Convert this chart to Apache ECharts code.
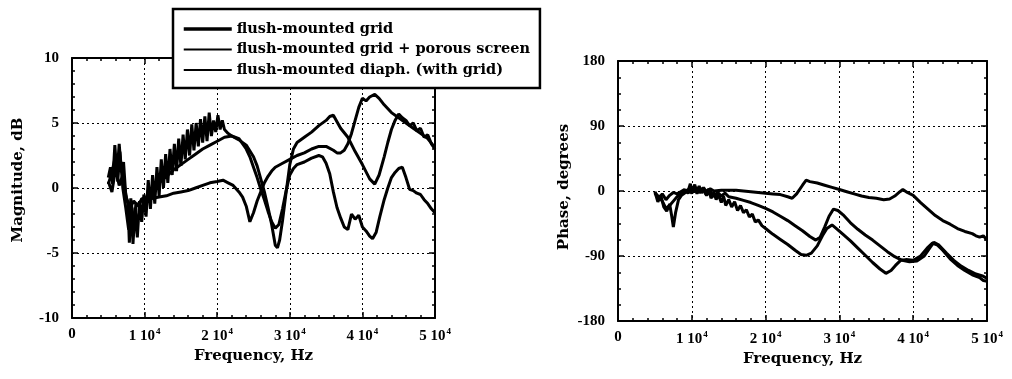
<!DOCTYPE html>
<html>
<head>
<meta charset="utf-8">
<script src="https://cdn.jsdelivr.net/npm/echarts@6/dist/echarts.min.js"></script>
<style>
  html, body { margin: 0; padding: 0; background: #fff; }
  #chart { width: 1012px; height: 379px; }
</style>
</head>
<body>
<div id="chart"></div>
<script>
// Legend entries (same three configurations on both panels)
const seriesNames = [
  'flush-mounted grid',
  'flush-mounted grid + porous screen',
  'flush-mounted diaph. (with grid)'
];

// Tick labels
const freqTickMantissa = ['0', '1 10', '2 10', '3 10', '4 10', '5 10'];
const freqTickExponent = '4';

// ---- Magnitude (dB) vs frequency (kHz) ----
const magFreqA = [5.0,5.3,5.6,5.9,6.2,6.5,6.8,7.1,7.4,7.7,7.9,8.2,8.4,8.7,9.0,9.3,9.6,9.9,10.2,10.5,10.8,11.1,11.4,11.7,12.0,12.3,12.6,12.9,13.2,13.5,13.8,14.1,14.4,14.7,15.0,15.3,15.6,15.9,16.2,16.5,16.8,17.1,17.4,17.7,18.0,18.3,18.6,18.9,19.2,19.5,19.8,20.1,20.4,20.7,21.0,21.5,22.0,23.0,24.0,25.0,25.5,26.0,26.5,27.0,27.5,28.0,28.3,28.6,29.0,29.5,30.0,30.5,31.0,32.0,33.0,34.0,35.0,35.5,36.0,36.5,37.0,38.0,39.0,40.0,41.0,41.7,42.3,43.0,43.5,44.0,44.5,45.0,45.5,46.0,46.5,47.0,47.5,48.0,48.5,49.0,49.5,50.0];
const magA     = [0.8,1.6,0.3,3.3,1.0,3.4,1.2,2.0,-0.5,-1.2,-4.2,-1.0,-4.3,-1.5,-3.8,-1.0,-2.6,-0.5,-2.2,0.6,-1.6,1.0,-1.2,1.6,-0.6,2.2,0.0,2.6,0.4,3.0,1.0,3.4,1.3,3.8,1.7,4.1,2.2,4.5,2.5,4.9,2.9,5.0,3.2,5.3,3.5,5.5,3.6,5.8,4.0,5.2,4.3,5.6,4.5,5.2,4.5,4.2,4.0,3.7,3.3,2.4,1.7,0.7,-0.3,-1.5,-2.8,-4.4,-4.6,-4.0,-2.5,-0.3,1.8,3.0,3.5,3.9,4.3,4.8,5.2,5.5,5.6,5.1,4.6,3.9,2.8,1.8,0.7,0.3,1.0,2.4,3.5,4.5,5.2,5.7,5.4,5.2,4.8,5.0,4.4,4.6,3.9,4.1,3.4,3.0];

const magFreqB = [5.0,5.5,6.0,6.3,6.6,7.0,7.4,7.8,8.1,8.5,8.8,9.2,9.6,10.0,10.5,11.0,12.0,13.0,14.0,15.0,16.0,17.0,18.0,19.0,20.0,21.0,22.0,23.0,24.0,24.5,25.0,25.5,26.0,26.5,27.0,27.5,28.0,28.5,29.0,29.5,30.0,30.5,31.0,32.0,33.0,34.0,34.5,35.0,35.5,36.0,36.5,37.0,37.5,38.0,38.5,39.0,39.5,40.0,40.5,41.0,41.4,41.9,42.4,43.0,43.5,44.0,44.5,45.0,45.5,46.0,46.5,47.0,47.5,48.0,48.5,49.0,49.5,50.0];
const magB     = [0.3,1.2,2.5,0.5,2.8,0.0,-1.5,-3.2,-0.8,-3.5,-1.2,-1.4,-0.8,-0.9,-0.5,-0.2,0.4,0.9,1.4,1.8,2.2,2.6,3.0,3.3,3.6,3.9,4.0,3.8,3.0,2.4,1.6,0.8,-0.1,-0.9,-1.8,-2.6,-3.1,-2.8,-1.6,-0.2,1.0,1.5,1.8,2.0,2.3,2.5,2.4,1.9,1.1,-0.3,-1.5,-2.3,-3.0,-3.2,-2.0,-2.4,-2.1,-3.0,-3.3,-3.7,-3.9,-3.4,-2.2,-0.9,0.0,0.8,1.2,1.5,1.6,0.8,-0.1,-0.2,-0.4,-0.5,-0.9,-1.2,-1.6,-1.9];

const magFreqC = [5.0,5.5,6.0,6.5,7.0,7.5,8.0,8.5,9.0,9.5,10.0,11.0,12.0,13.0,14.0,15.0,16.0,17.0,18.0,19.0,20.0,20.8,21.5,22.2,23.0,23.5,24.0,24.5,25.0,25.5,26.0,26.5,27.0,27.5,28.0,29.0,30.0,31.0,32.0,33.0,34.0,35.0,36.0,36.5,37.0,37.5,38.0,38.5,39.0,39.5,40.0,40.5,41.0,41.7,42.3,43.0,44.0,45.0,46.0,47.0,48.0,49.0,50.0];
const magC     = [0.5,-0.3,1.5,0.2,1.0,-0.8,-1.5,-1.0,-1.3,-1.0,-0.9,-0.8,-0.7,-0.6,-0.4,-0.3,-0.2,0.0,0.2,0.4,0.5,0.6,0.4,0.2,-0.3,-0.7,-1.4,-2.6,-1.9,-1.0,-0.3,0.4,0.9,1.3,1.6,1.9,2.2,2.5,2.7,3.0,3.2,3.2,2.9,2.7,2.7,2.9,3.4,4.2,5.2,6.2,6.9,6.7,7.0,7.2,6.9,6.4,5.8,5.4,5.0,4.6,4.2,3.8,3.1];

// ---- Phase (degrees) vs frequency (kHz) ----
const phFreqA = [5.0,5.4,5.8,6.2,6.6,7.0,7.3,7.5,7.8,8.2,8.6,9.0,9.5,9.8,10.1,10.4,10.7,11.0,11.3,11.6,12.0,12.3,12.6,13.0,13.3,13.6,14.0,14.3,14.6,15.0,15.4,15.8,16.2,16.6,17.0,17.4,17.8,18.2,18.6,19.0,19.5,20.0,20.5,21.0,22.0,23.0,24.0,24.8,25.5,26.2,27.0,27.7,28.3,29.0,29.6,30.5,31.5,32.5,33.5,34.5,35.5,36.3,37.0,37.6,38.3,39.0,40.0,41.0,42.0,42.6,43.3,44.0,45.0,46.0,47.0,48.0,49.0,49.5,50.0];
const phA     = [-1,-15,-6,-22,-28,-18,-36,-50,-30,-12,-6,-3,0,10,-2,9,-4,7,-3,5,-6,3,-10,-2,-12,-5,-16,-7,-20,-12,-22,-15,-27,-20,-30,-26,-36,-32,-43,-40,-48,-52,-56,-60,-67,-74,-82,-88,-89,-86,-76,-62,-52,-47,-52,-60,-69,-79,-89,-99,-108,-114,-110,-103,-96,-95,-96,-90,-78,-72,-75,-82,-94,-103,-110,-116,-120,-124,-125];

const phFreqB = [5.0,5.5,6.0,6.5,7.0,7.5,8.0,8.5,9.0,9.5,10.0,10.5,11.0,11.5,12.0,12.5,13.0,13.5,14.0,14.5,15.0,16.0,17.0,18.0,19.0,20.0,21.0,22.0,23.0,24.0,25.0,26.0,26.8,27.4,28.0,28.6,29.2,29.8,30.5,31.5,32.5,33.5,34.5,35.5,36.5,37.5,38.5,39.5,40.5,41.5,42.3,42.8,43.5,44.5,45.5,46.5,47.5,48.5,49.5,50.0];
const phB     = [-2,-8,-14,-24,-20,-14,-8,-4,-2,2,-3,4,-2,2,-6,0,-8,-2,-7,-3,-8,-10,-13,-16,-20,-24,-29,-35,-41,-48,-55,-63,-68,-64,-50,-35,-25,-27,-33,-44,-53,-61,-68,-76,-84,-91,-96,-98,-97,-90,-78,-71,-75,-86,-96,-104,-110,-115,-118,-121];

const phFreqC = [5.0,5.5,6.0,6.5,7.0,7.5,8.0,8.5,9.0,9.5,10.0,10.3,10.6,11.0,11.5,12.0,12.5,13.0,14.0,15.0,16.0,17.0,18.0,19.0,20.0,21.0,22.0,23.0,23.6,24.2,25.0,25.5,26.0,27.0,28.0,29.0,30.0,31.0,32.0,33.0,34.0,35.0,36.0,36.8,37.5,38.2,38.6,39.2,40.0,41.0,42.0,43.0,44.0,45.0,46.0,47.0,48.0,48.5,49.0,49.5,50.0];
const phC     = [-3,-10,-4,-12,-6,-2,-4,-1,2,-3,6,-2,5,-1,4,0,3,0,1,1,1,0,-1,-2,-3,-4,-5,-8,-10,-4,8,15,13,11,8,5,2,-1,-4,-7,-9,-10,-12,-11,-7,-1,2,-2,-6,-16,-25,-34,-41,-46,-52,-56,-59,-62,-64,-62,-68];

function pairs(freqK, vals) {
  return freqK.map((f, i) => [f * 1000, vals[i]]);
}

const serifBold = 'DejaVu Serif';
const tickFont = 'Liberation Serif';

const xLabel = {
  margin: 9,
  color: '#000',
  formatter: function (v) {
    const k = Math.round(v / 10000);
    if (k === 0) return '{b|' + freqTickMantissa[0] + '}';
    return '{b|' + freqTickMantissa[k] + '}{s|' + freqTickExponent + '}';
  },
  rich: {
    b: { fontFamily: tickFont, fontSize: 15, fontWeight: 'bold', color: '#000' },
    s: { fontFamily: tickFont, fontSize: 9, fontWeight: 'bold', color: '#000', padding: [0, 0, 9, 1] }
  }
};

const frameLine = { show: true, onZero: false, lineStyle: { color: '#000', width: 2 } };
const majorTick = { show: true, inside: true, length: 6, lineStyle: { color: '#000', width: 1.5 } };
const gridDots = { show: true, lineStyle: { color: '#000', width: 1, type: [2, 3] } };
const titleStyle = { fontFamily: serifBold, fontWeight: 'bold', fontSize: 15, color: '#000' };

function minor(n) {
  return { show: true, splitNumber: n, length: 3, lineStyle: { color: '#000', width: 1.5 } };
}

function xAxes(gridIndex) {
  return [
    {
      gridIndex, type: 'value', position: 'bottom', min: 0, max: 50000, interval: 10000,
      axisLine: frameLine, axisTick: majorTick, minorTick: minor(5), splitLine: gridDots,
      axisLabel: xLabel,
      name: 'Frequency, Hz', nameLocation: 'middle', nameGap: 30, nameTextStyle: titleStyle
    },
    {
      gridIndex, type: 'value', position: 'top', min: 0, max: 50000, interval: 10000,
      axisLine: frameLine, axisTick: majorTick, minorTick: minor(5),
      splitLine: { show: false }, axisLabel: { show: false }
    }
  ];
}

// lift: extra padding that nudges the rotated title upward along the axis
function yAxes(gridIndex, min, max, interval, minorN, title, lift) {
  const label = { color: '#000', fontFamily: tickFont, fontSize: 15, fontWeight: 'bold', margin: 13 };
  return [
    {
      gridIndex, type: 'value', position: 'left', min, max, interval,
      axisLine: frameLine, axisTick: majorTick, minorTick: minor(minorN), splitLine: gridDots,
      axisLabel: label,
      name: title, nameLocation: 'middle', nameGap: 46, nameRotate: 90,
      nameTextStyle: Object.assign({ padding: [0, 0, 0, lift] }, titleStyle)
    },
    {
      gridIndex, type: 'value', position: 'right', min, max, interval,
      axisLine: frameLine, axisTick: majorTick, minorTick: minor(minorN),
      splitLine: { show: false }, axisLabel: { show: false }
    }
  ];
}

function curve(name, xi, yi, data) {
  return {
    name, type: 'line', xAxisIndex: xi, yAxisIndex: yi, data,
    symbol: 'none', showSymbol: false, smooth: false, silent: true,
    lineStyle: { color: '#000', width: 3 }, itemStyle: { color: '#000' },
    emphasis: { disabled: true }
  };
}

const chart = echarts.init(document.getElementById('chart'), null, { renderer: 'canvas' });
chart.setOption({
  animation: false,
  backgroundColor: '#fff',
  grid: [
    { left: 72, top: 58, width: 363, height: 260 },
    { left: 618, top: 61, width: 369, height: 260 }
  ],
  xAxis: [...xAxes(0), ...xAxes(1)],
  yAxis: [
    ...yAxes(0, -10, 10, 5, 5, 'Magnitude, dB', 16),
    ...yAxes(1, -180, 180, 90, 4, 'Phase, degrees', 8)
  ],
  legend: {
    orient: 'vertical', left: 173, top: 9,
    padding: [11, 10, 9, 9], itemWidth: 48, itemHeight: 14, itemGap: 2.5,
    borderColor: '#000', borderWidth: 2.5, backgroundColor: '#fff',
    selectedMode: false,
    itemStyle: { opacity: 0 },
    textStyle: { fontFamily: serifBold, fontWeight: 'bold', fontSize: 14.5, color: '#000', lineHeight: 18 },
    data: [
      { name: seriesNames[0], lineStyle: { width: 3.5, color: '#000' } },
      { name: seriesNames[1], lineStyle: { width: 2, color: '#000' } },
      { name: seriesNames[2], lineStyle: { width: 2, color: '#000' } }
    ]
  },
  series: [
    curve(seriesNames[0], 0, 0, pairs(magFreqA, magA)),
    curve(seriesNames[1], 0, 0, pairs(magFreqB, magB)),
    curve(seriesNames[2], 0, 0, pairs(magFreqC, magC)),
    curve(seriesNames[0], 2, 2, pairs(phFreqA, phA)),
    curve(seriesNames[1], 2, 2, pairs(phFreqB, phB)),
    curve(seriesNames[2], 2, 2, pairs(phFreqC, phC))
  ]
});
</script>
</body>
</html>
